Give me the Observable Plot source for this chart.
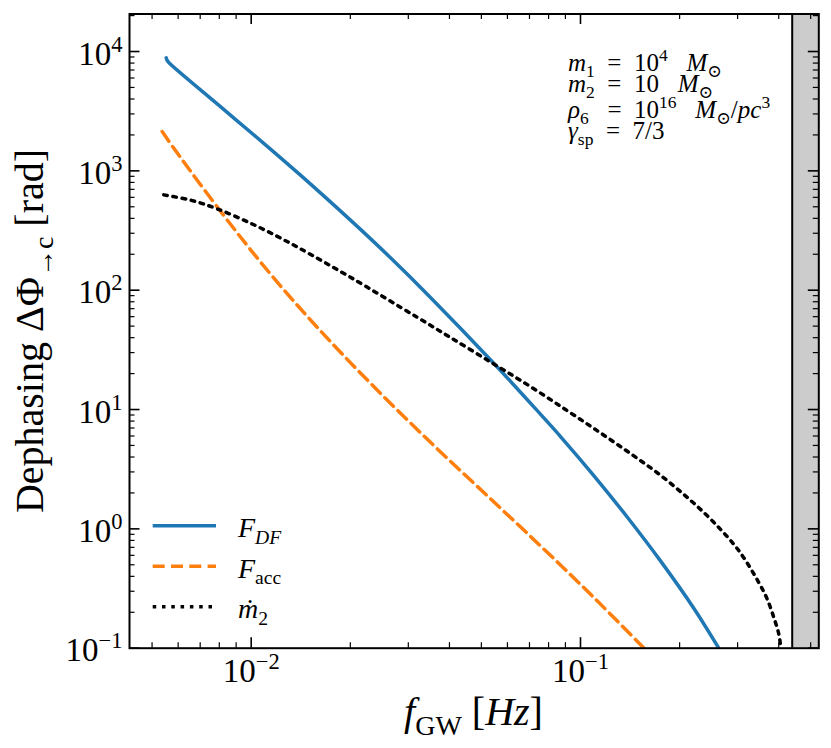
<!DOCTYPE html>
<html><head><meta charset="utf-8">
<script src="https://cdn.jsdelivr.net/npm/d3@7"></script>
<script src="https://cdn.jsdelivr.net/npm/@observablehq/plot@0.6"></script>
<style>html,body{margin:0;padding:0;background:#fff;overflow:hidden} svg{display:block}</style>
</head><body><div id="chart"></div>
<script>
// ---- data ----
const dfFreq  = [0.005518, 0.005557, 0.005647, 0.008066, 0.011443, 0.014114, 0.02002, 0.026486, 0.035029, 0.054523, 0.075553, 0.086958, 0.10974, 0.13861, 0.17496, 0.22081, 0.26302];
const dfPhase = [8855, 8407, 7978, 3452, 1523, 920.4, 386.2, 186.9, 87.01, 24.44, 9.151, 5.939, 2.798, 1.258, 0.5393, 0.2164, 0.1];

const accFreq  = [0.005366, 0.005890, 0.008256, 0.011440, 0.01586, 0.023034, 0.03503, 0.053281, 0.07735, 0.10951, 0.1559];
const accPhase = [2135, 1479, 422, 136.7, 48.9, 16.58, 5.31, 1.788, 0.678, 0.2676, 0.1];

const mdotFreq  = [0.005427, 0.006587, 0.007882, 0.010070, 0.012560, 0.014114, 0.020020, 0.031919, 0.04029, 0.054523, 0.07050, 0.09004, 0.11235, 0.14017, 0.17290, 0.21088, 0.25397, 0.30252, 0.34774, 0.36879, 0.38637, 0.40009, 0.40487];
const mdotPhase = [629, 565.7, 480.3, 358.8, 264.6, 222.3, 128.3, 59.28, 40.13, 24.07, 15.56, 10.0, 6.656, 4.377, 2.885, 1.837, 1.134, 0.6566, 0.3561, 0.2585, 0.1812, 0.1315, 0.1068];

const iscoFreq = 0.4395;            // start of shaded band
const xDomain = [0.00427, 0.5293];
const yDomain = [0.1, 20624];
const xMajorTicks = [0.01, 0.1];
const yMajorTicks = [0.1, 1, 10, 100, 1000, 10000];
const seriesNames = ["F_DF", "F_acc", "mdot_2"];
const annotationLines = ["m1 = 10^4 Msun", "m2 = 10 Msun", "rho6 = 10^16 Msun/pc^3", "gamma_sp = 7/3"];

// minor tick positions (2..9 x 10^k) inside the domains
function minorTicks(domain, kmin, kmax) {
  const out = [];
  for (let k = kmin; k <= kmax; k++) for (let m = 2; m <= 9; m++) {
    const v = m * Math.pow(10, k);
    if (v > domain[0] && v < domain[1]) out.push(v);
  }
  return out;
}
const xMinorTicks = minorTicks(xDomain, -3, -1);
const yMinorTicks = minorTicks(yDomain, -1, 4);

const rows = (fs, ps) => fs.map((f, i) => ({f, phi: ps[i]}));

// ---- layout ----
const W = 831, H = 748;
const mT = 13.5, mR = 12.7, mB = 100.3, mL = 129;
const fw = W - mL - mR, fh = H - mT - mB;
const majLen = 10.5, minLen = 5.5;
const FONT = "'Liberation Serif', 'DejaVu Serif', serif";
const DASH = "12,6.3", DOT = "3.5,5.8";

const plot = Plot.plot({
  width: W, height: H,
  marginTop: mT, marginRight: mR, marginBottom: mB, marginLeft: mL,
  x: {type: "log", domain: xDomain},
  y: {type: "log", domain: yDomain},
  style: {fontFamily: FONT, background: "white", color: "black", overflow: "visible"},
  marks: [
    Plot.rect([{x1: iscoFreq, x2: xDomain[1]}], {x1: "x1", x2: "x2", fill: "#cccccc"}),
    Plot.ruleX([iscoFreq], {stroke: "black", strokeWidth: 2}),
    Plot.line(rows(dfFreq, dfPhase), {x: "f", y: "phi", stroke: "#1f77b4", strokeWidth: 3.5, curve: "catmull-rom", clip: true}),
    Plot.line(rows(accFreq, accPhase), {x: "f", y: "phi", stroke: "#ff7f0e", strokeWidth: 3.5, strokeDasharray: DASH, curve: "catmull-rom", clip: true}),
    Plot.line(rows(mdotFreq, mdotPhase), {x: "f", y: "phi", stroke: "black", strokeWidth: 3.5, strokeDasharray: DOT, curve: "catmull-rom", clip: true}),
    // inward ticks on all four sides
    Plot.tickX(xMajorTicks, {x: d => d, insetTop: fh - majLen, strokeWidth: 1.6}),
    Plot.tickX(xMajorTicks, {x: d => d, insetBottom: fh - majLen, strokeWidth: 1.6}),
    Plot.tickX(xMinorTicks, {x: d => d, insetTop: fh - minLen, strokeWidth: 1.2}),
    Plot.tickX(xMinorTicks, {x: d => d, insetBottom: fh - minLen, strokeWidth: 1.2}),
    Plot.tickY(yMajorTicks, {y: d => d, insetRight: fw - majLen, strokeWidth: 1.6}),
    Plot.tickY(yMajorTicks, {y: d => d, insetLeft: fw - majLen, strokeWidth: 1.6}),
    Plot.tickY(yMinorTicks, {y: d => d, insetRight: fw - minLen, strokeWidth: 1.2}),
    Plot.tickY(yMinorTicks, {y: d => d, insetLeft: fw - minLen, strokeWidth: 1.2}),
    Plot.axisX({ticks: xMajorTicks, tickSize: 0, tickPadding: 0, fontSize: 33, label: null,
      tickFormat: d => "10^" + Math.round(Math.log10(d))}),
    Plot.axisY({ticks: yMajorTicks, anchor: "left", tickSize: 0, tickPadding: 7, fontSize: 33, label: null,
      tickFormat: d => "10^" + Math.round(Math.log10(d))}),
    Plot.frame({stroke: "black", strokeWidth: 2})
  ]
});

document.getElementById("chart").appendChild(plot);
const svg = d3.select(plot);

// ---- superscript tick labels ----
svg.selectAll('g[aria-label="x-axis tick label"] text, g[aria-label="y-axis tick label"] text').each(function() {
  const s = this.textContent;
  const m = s.match(/^10\^(.*)$/);
  if (!m) return;
  const isY = this.parentNode.getAttribute("aria-label").startsWith("y");
  const el = d3.select(this);
  el.text("");
  el.attr("y", isY ? "13px" : "34px");
  el.append("tspan").text("10");
  el.append("tspan").text(m[1].replace("-", "\u2212")).attr("font-size", 22.5).attr("dy", -13);
});

// ---- rich text helper (first tspan may carry absolute x/y) ----
function rich(sel, parts, size, x0, y0) {
  let cur = 0;
  sel.style("white-space", "pre");
  parts.forEach((p, j) => {
    const off = p.sub ? size * 0.24 : p.sup ? -size * 0.42 : 0;
    const ts = sel.append("tspan").text(p.t)
      .attr("font-size", (p.sub || p.sup) ? size * 0.7 : size)
      .attr("font-style", p.i ? "italic" : "normal");
    if (j === 0 && x0 != null) ts.attr("x", x0).attr("y", y0 + off);
    else ts.attr("dy", off - cur);
    cur = off;
  });
}

// ---- axis titles ----
const yl = svg.append("text").attr("transform", "translate(43,331) rotate(-90)")
  .attr("text-anchor", "middle").attr("font-family", FONT).attr("fill", "black");
rich(yl, [{t: "Dephasing \u0394\u03A6"}, {t: "\u2192c", sub: 1}, {t: " [rad]"}], 40);

const xl = svg.append("text").attr("x", 473.5).attr("y", 725)
  .attr("text-anchor", "middle").attr("font-family", FONT).attr("fill", "black");
rich(xl, [{t: "f", i: 1}, {t: "GW", sub: 1}, {t: " ["}, {t: "Hz", i: 1}, {t: "]"}], 40);

// ---- legend ----
const legendParts = {
  "F_DF": [{t: "F", i: 1}, {t: "DF", i: 1, sub: 1}],
  "F_acc": [{t: "F", i: 1}, {t: "acc", sub: 1}],
  "mdot_2": [{t: "\u1E41", i: 1}, {t: "2", sub: 1}]
};
const legendStyles = [
  {stroke: "#1f77b4", dash: null},
  {stroke: "#ff7f0e", dash: DASH},
  {stroke: "black", dash: DOT}
];
seriesNames.forEach((name, k) => {
  const yLine = 525.7 + k * 40.5;
  const st = legendStyles[k];
  svg.append("line").attr("x1", 152.7).attr("x2", 216).attr("y1", yLine).attr("y2", yLine)
    .attr("stroke", st.stroke).attr("stroke-width", 3.5).attr("stroke-dasharray", st.dash);
  const t = svg.append("text").attr("x", 238).attr("y", yLine + 11.3)
    .attr("text-anchor", "start").attr("font-family", FONT).attr("fill", "black");
  rich(t, legendParts[name], 28);
});

// ---- parameter annotation (one text block, four lines) ----
const E = "\u2002";
const annParts = [
  [{t: "m", i: 1}, {t: "1", sub: 1}, {t: E + "=" + E + "10"}, {t: "4", sup: 1}, {t: E + " "}, {t: "M", i: 1}, {t: "\u2299", sub: 1}],
  [{t: "m", i: 1}, {t: "2", sub: 1}, {t: E + "=" + E + "10" + E + " "}, {t: "M", i: 1}, {t: "\u2299", sub: 1}],
  [{t: "\u03C1", i: 1}, {t: "6", sub: 1}, {t: E + " =" + E + "10"}, {t: "16", sup: 1}, {t: E + " "}, {t: "M", i: 1}, {t: "\u2299", sub: 1}, {t: "/"}, {t: "pc", i: 1}, {t: "3", sup: 1}],
  [{t: "\u03B3", i: 1}, {t: "sp", sub: 1}, {t: E + "=" + E + "7/3"}]
];
const annBase = [71, 92, 118, 139];
const ann = svg.append("text").attr("text-anchor", "start").attr("font-family", FONT).attr("fill", "black");
annotationLines.forEach((_, k) => rich(ann, annParts[k], 25, 568, annBase[k]));
</script>
</body></html>
